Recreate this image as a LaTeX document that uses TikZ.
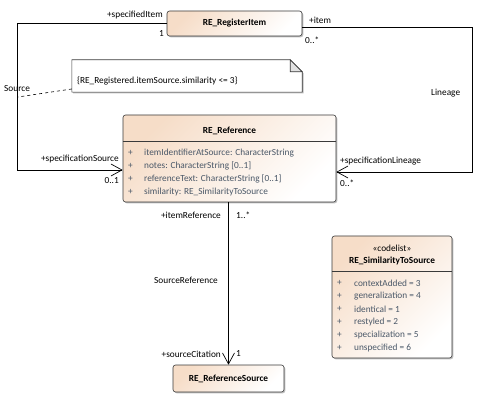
\documentclass[tikz,border=0pt]{standalone}
\usepackage{fontspec}
\setmainfont{Carlito}
\usetikzlibrary{
arrows.meta,
positioning,
shadows
}
\definecolor{umlpeach}{HTML}{F6DDC8}
\definecolor{umlframe}{HTML}{3A3A3A}
\definecolor{attrtext}{HTML}{4A5868}
\definecolor{foldgray}{HTML}{E2E2E2}

\begin{document}
\begin{tikzpicture}[
x=1pt, y=-1pt,
font=\fontsize{9.3}{11}\selectfont,
classbox/.style={
rectangle,
rounded corners=2.5pt,
draw=umlframe,
line width=0.6pt,
top color=umlpeach,
bottom color=white,
shading angle=45,
drop shadow={shadow xshift=1.3pt, shadow yshift=-1.3pt, fill=black, opacity=0.25},
inner sep=0pt
},
classname/.style={font=\fontsize{9.3}{11}\selectfont\bfseries},
attr/.style={anchor=west, text=attrtext, inner sep=0pt},
lbl/.style={inner sep=0pt},
divider/.style={draw=umlframe, line width=0.6pt},
navarrow/.style={draw, line width=0.7pt, -{Straight Barb[length=11pt,width=12pt,line width=0.7pt]}}
]
\useasboundingbox (0,0) rectangle (482,403);

% classes
\node[classbox, minimum width=135pt, minimum height=25pt] (item) at (234.5,23.5) {};
\node[classname] at (item) {RE\_RegisterItem};

\node[classbox, minimum width=213pt, minimum height=87pt] (ref) at (229.5,158.5) {};
\node[classname] at (229.5,131) {RE\_Reference};
\draw[divider] ([yshift=-27pt]ref.north west) -- ([yshift=-27pt]ref.north east);
\foreach \attrline [count=\i] in {
{itemIdentifierAtSource: CharacterString},
{notes: CharacterString [0..1]},
{referenceText: CharacterString [0..1]},
{similarity: RE\_SimilarityToSource}}{
\node[attr] at (128,140+13*\i) {+};
\node[attr] at (144,140+13*\i) {\attrline};
}

\node[classbox, minimum width=111pt, minimum height=27pt] (src) at (228.5,378.5) {};
\node[classname] at (src) {RE\_ReferenceSource};

\node[classbox, minimum width=120pt, minimum height=122pt] (sim) at (392,297) {};
\node at (392,248) {«codelist»};
\node[classname] at (392,261) {RE\_SimilarityToSource};
\draw[divider] ([yshift=-36pt]sim.north west) -- ([yshift=-36pt]sim.north east);
\foreach \attrline [count=\i] in {
{contextAdded = 3},
{generalization = 4},
{identical = 1},
{restyled = 2},
{specialization = 5},
{unspecified = 6}}{
\node[attr] at (337,270+13*\i) {+};
\node[attr] at (354,270+13*\i) {\attrline};
}

% constraint note
\node[minimum width=230pt, minimum height=32pt, inner sep=0pt] (note) at (187,76) {};
\fill[black, opacity=0.25] ([shift={(1.3pt,-1.3pt)}]note.north west) -- ([shift={(-10.7pt,-1.3pt)}]note.north east)
-- ([shift={(1.3pt,-13.3pt)}]note.north east) -- ([shift={(1.3pt,-1.3pt)}]note.south east)
-- ([shift={(1.3pt,-1.3pt)}]note.south west) -- cycle;
\filldraw[draw=umlframe, fill=white, line width=0.6pt] (note.north west) -- ([xshift=-12pt]note.north east)
-- ([yshift=-12pt]note.north east) -- (note.south east) -- (note.south west) -- cycle;
\filldraw[draw=umlframe, fill=foldgray, line width=0.6pt] ([xshift=-12pt]note.north east)
-- ([xshift=-12pt,yshift=-12pt]note.north east) -- ([yshift=-12pt]note.north east) -- cycle;
\node[anchor=west, inner sep=0pt] at (77,81) {\{RE\_Registered.itemSource.similarity <= 3\}};

% associations
\draw[navarrow] (item.west) -- ++(-149,0) |- ([yshift=-11.5pt]ref.west);
\draw[navarrow] ([yshift=-3.5pt]item.east) -- ++(170,0) |- ([yshift=-13.5pt]ref.east);
\draw[navarrow] (src.north |- ref.south) -- (src.north);
\coordinate (srcpt) at (18,97);
\draw[dashed, line width=0.6pt] ([yshift=-13pt]note.west) -- (srcpt);

% association labels
\node[lbl, anchor=east] at (163,15) {+specifiedItem};
\node[lbl, anchor=east] at (164,34) {1};
\node[lbl, anchor=west] at (309,20) {+item};
\node[lbl, anchor=west] at (305,40) {0..*};
\node[lbl, anchor=west] at (4,89) {Source};
\node[lbl, anchor=west] at (431,93) {Lineage};
\node[lbl, anchor=east] at (119,159) {+specificationSource};
\node[lbl, anchor=east] at (119,181) {0..1};
\node[lbl, anchor=west] at (340,161) {+specificationLineage};
\node[lbl, anchor=west] at (340,183) {0..*};
\node[lbl, anchor=east] at (221,215) {+itemReference};
\node[lbl, anchor=west] at (236,215) {1..*};
\node[lbl, anchor=east] at (218,280) {SourceReference};
\node[lbl, anchor=east] at (221,354) {+sourceCitation};
\node[lbl, anchor=west] at (236,354) {1};

\end{tikzpicture}
\end{document}
